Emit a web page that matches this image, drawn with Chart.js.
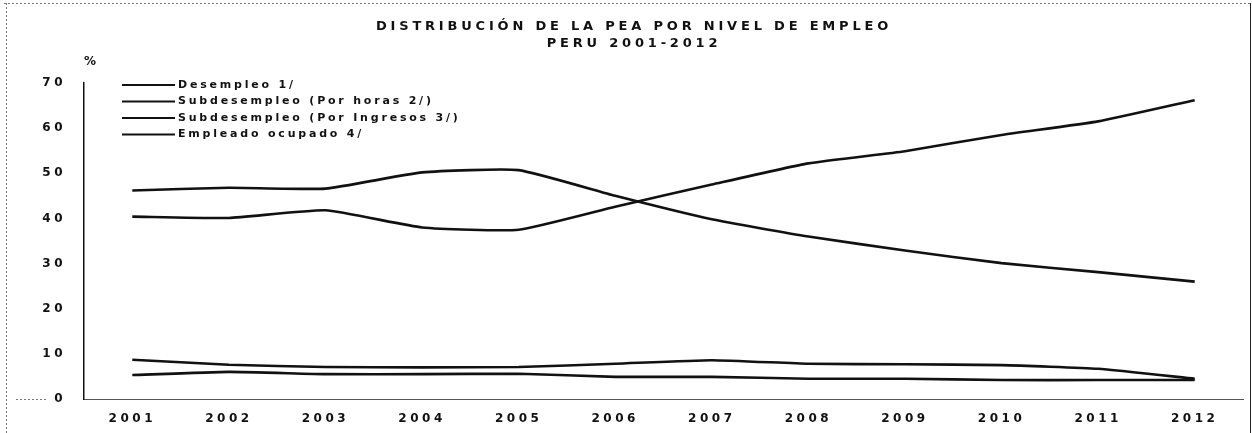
<!DOCTYPE html>
<html>
<head>
<meta charset="utf-8">
<script src="https://cdn.jsdelivr.net/npm/chart.js@4/dist/chart.umd.min.js"></script>
<style>
  html, body { margin: 0; padding: 0; background: #fff; }
  #wrap { width: 1252px; height: 433px; position: relative; }
</style>
</head>
<body>
<div id="wrap"><canvas id="c"></canvas></div>
<script>
// values (%)
const years = ['2001', '2002', '2003', '2004', '2005', '2006', '2007', '2008', '2009', '2010', '2011', '2012'];
const desempleo = [5.3, 6.0, 5.5, 5.5, 5.6, 4.9, 4.9, 4.5, 4.5, 4.2, 4.2, 4.2];
const subHoras = [8.7, 7.6, 7.1, 7.0, 7.1, 7.8, 8.6, 7.8, 7.7, 7.5, 6.7, 4.5];
const subIngresos = [46.2, 46.8, 46.6, 50.2, 50.7, 45.0, 39.8, 36.0, 32.9, 30.1, 28.1, 26.0];
const empleado = [40.4, 40.1, 41.8, 38.0, 37.5, 42.6, 47.5, 52.2, 54.9, 58.5, 61.5, 66.2];
const seriesNames = ['Desempleo 1/', 'Subdesempleo (Por horas 2/)', 'Subdesempleo (Por Ingresos 3/)', 'Empleado ocupado 4/'];
const titleLines = ['DISTRIBUCIÓN DE LA PEA POR NIVEL DE EMPLEO', 'PERU 2001-2012'];

const FONT = "'DejaVu Sans', sans-serif";
const INK = '#111';
const TICK_SPACING = '3.5px';

// canvas letter spacing must be set before measuring and before drawing
const spacing = {
  id: 'spacing',
  beforeLayout(chart) { chart.ctx.letterSpacing = TICK_SPACING; },
  beforeDraw(chart) { chart.ctx.letterSpacing = TICK_SPACING; },
};

// title, "%" label, legend inside plot, page frame
const decor = {
  id: 'decor',
  afterDraw(chart) {
    const ctx = chart.ctx;
    ctx.save();
    ctx.fillStyle = INK;
    ctx.textBaseline = 'middle';

    ctx.textAlign = 'center';
    ctx.letterSpacing = '3.8px';
    ctx.font = 'bold 13px ' + FONT;
    ctx.fillText(titleLines[0], 634, 27);
    ctx.fillText(titleLines[1], 634, 44);

    ctx.letterSpacing = '0px';
    ctx.font = 'bold 12px ' + FONT;
    ctx.fillText('%', 90, 62);

    // legend
    ctx.textAlign = 'left';
    ctx.letterSpacing = '2.8px';
    ctx.font = 'bold 11px ' + FONT;
    chart.data.datasets.forEach((ds, i) => {
      const y = 85 + i * 16.5;
      ctx.strokeStyle = ds.borderColor;
      ctx.lineWidth = 2;
      ctx.beginPath(); ctx.moveTo(122, y); ctx.lineTo(175, y); ctx.stroke();
      ctx.fillText(ds.label, 178, y);
    });

    // scanned page frame
    ctx.strokeStyle = '#777';
    ctx.lineWidth = 1;
    ctx.setLineDash([2, 2]);
    ctx.beginPath();
    ctx.moveTo(6.5, 3); ctx.lineTo(6.5, 433);
    ctx.moveTo(4, 3.5); ctx.lineTo(1250, 3.5);
    ctx.moveTo(16, 399.5); ctx.lineTo(48, 399.5);
    ctx.stroke();
    ctx.setLineDash([]);
    ctx.strokeStyle = '#222';
    ctx.beginPath(); ctx.moveTo(1250.5, 3); ctx.lineTo(1250.5, 433); ctx.stroke();
    ctx.restore();
  },
};

const line = (label, data) => ({
  label, data,
  borderColor: INK, backgroundColor: INK,
  borderWidth: 2.6, pointRadius: 0, tension: 0.15,
});

new Chart(document.getElementById('c'), {
  type: 'line',
  data: {
    labels: years,
    datasets: [
      line(seriesNames[0], desempleo),
      line(seriesNames[1], subHoras),
      line(seriesNames[2], subIngresos),
      line(seriesNames[3], empleado),
    ],
  },
  options: {
    responsive: true,
    maintainAspectRatio: false,
    animation: false,
    layout: { padding: { top: 83, right: 9, left: 0, bottom: 0 } },
    plugins: { legend: { display: false }, title: { display: false }, tooltip: { enabled: false } },
    scales: {
      x: {
        offset: true,
        grid: { display: false, drawTicks: false },
        border: { display: true, color: '#555', width: 1 },
        ticks: { color: INK, font: { family: FONT, size: 12, weight: 'bold' }, padding: 13, maxRotation: 0 },
        afterFit: (s) => { s.height = 34; },
      },
      y: {
        min: 0, max: 70,
        grid: { display: false, drawTicks: false },
        border: { display: true, color: INK, width: 1.5 },
        ticks: { stepSize: 10, color: INK, font: { family: FONT, size: 12, weight: 'bold' }, padding: 18 },
        afterFit: (s) => { s.width = 84; },
      },
    },
  },
  plugins: [spacing, decor],
});
</script>
</body>
</html>
